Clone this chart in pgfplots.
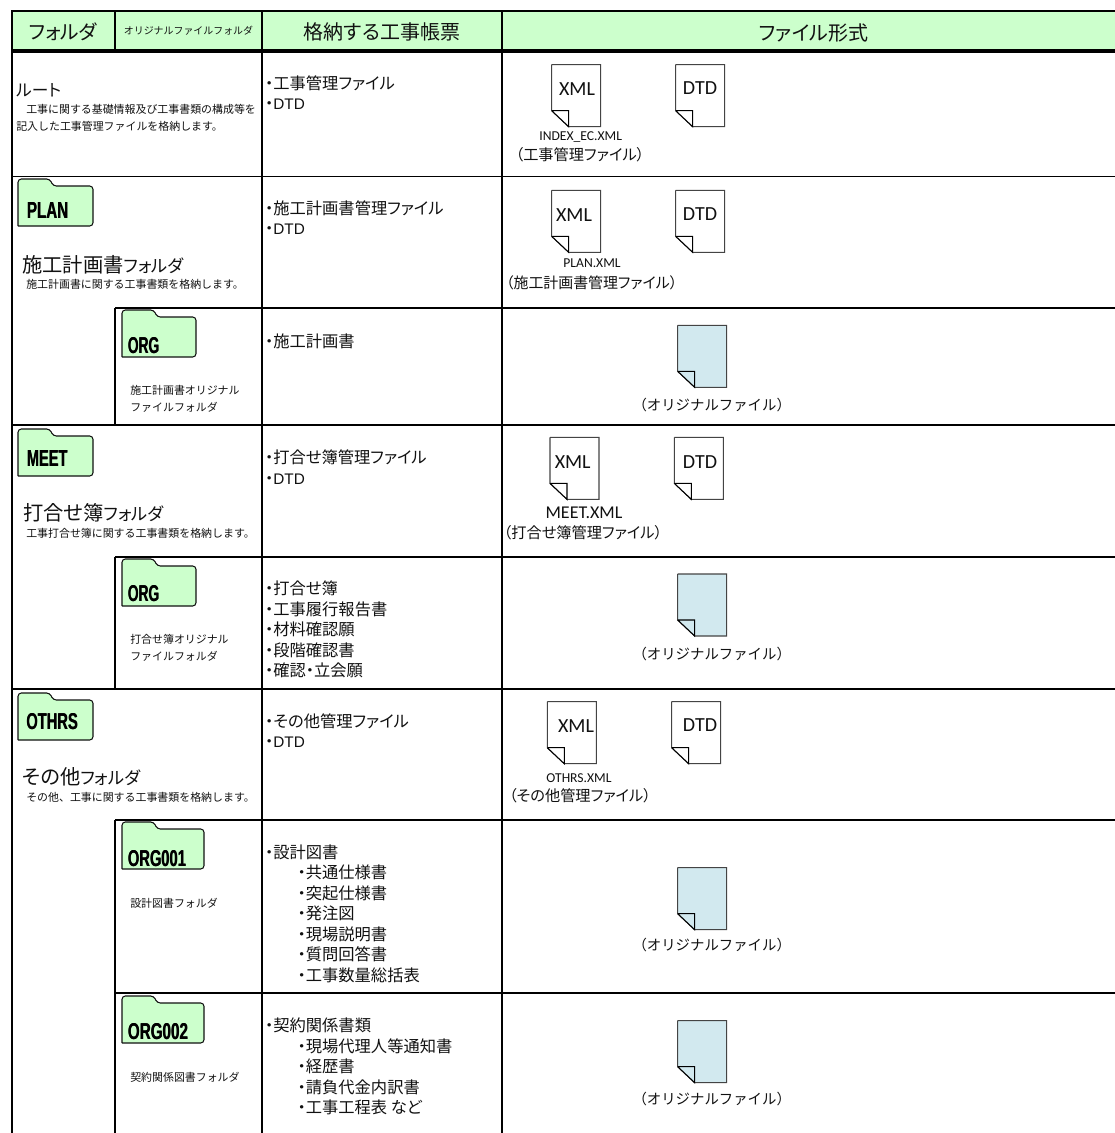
\documentclass[border=0pt]{standalone}
\usepackage{fontspec}
\usepackage{graphicx}
\usepackage{pgfplots}
\usepackage{pgfplotstable}
\pgfplotsset{compat=1.18}
\setmainfont{Noto Sans CJK JP}[RawFeature=+palt]
\newfontfamily\fw{Noto Sans CJK JP}
\newfontfamily\lat{Carlito}
\newfontfamily\lib{Liberation Sans}
\definecolor{hdr}{HTML}{CCFFCC}
\definecolor{blu}{HTML}{D2E9EF}
\definecolor{ink}{HTML}{111111}
\definecolor{edge}{HTML}{444444}
\pgfplotstableread{
x y
0 0
49 0
49 62
17 62
0 46
0 0
}\docshape
\pgfplotstableread{
x y
0 46
17 46
17 62
0 46
}\foldshape
\pgfplotstableread{
dx w y
0 0 47
0 0 0
32 0 0
35 0 7
0 1 7
0 1 47
0 0 47
}\foldershape
\newcommand\doc[3]{%
  \addplot[draw=edge,fill=#3,line width=.8pt,line join=miter] table[x expr=\thisrow{x}+#1,y expr=\thisrow{y}+#2] {\docshape};
  \addplot[draw=black,fill=#3,line width=.8pt] table[x expr=\thisrow{x}+#1,y expr=\thisrow{y}+#2] {\foldshape};
}
\newcommand\folder[4]{%
  \addplot[draw=ink,fill=hdr,line width=.8pt,rounded corners=2.5pt] table[x expr=\thisrow{dx}+\thisrow{w}*#3+#1,y expr=\thisrow{y}+#2] {\foldershape};
}
\newcommand\flabel[5]{% left-x centre-y width height text
  \node[anchor=west,inner sep=0pt,text=black] at (axis cs:#1,#2) {\resizebox{#3pt}{#4pt}{\lib\bfseries #5}};
  \node[anchor=west,inner sep=0pt,text=black,xshift=.35pt] at (axis cs:#1,#2) {\resizebox{#3pt}{#4pt}{\lib\bfseries #5}};
}
\newcommand\TL[4]{\node[anchor=west,inner sep=0pt,text=ink,font=\fontsize{#3}{#3}\selectfont] at (axis cs:#1,#2) {#4};}
\newcommand\TC[4]{\node[anchor=center,inner sep=0pt,text=ink,font=\fontsize{#3}{#3}\selectfont] at (axis cs:#1,#2) {#4};}
\newcommand\SM[3]{\node[anchor=west,inner sep=0pt,text=ink,font=\fw\fontsize{8.2}{8.2}\selectfont] at (axis cs:#1,#2) {#3};}
\newcommand\OR[2]{\node[anchor=center,inner sep=0pt,text=ink,font=\fw\fontsize{10.8}{10.8}\selectfont] at (axis cs:#1,#2) {（オリジナルファイル）};}
\newcommand\BIG[2]{{\fontsize{15.2}{15.2}\selectfont #1}{\fontsize{13}{13}\selectfont #2}}
\begin{document}
\begin{tikzpicture}
\begin{axis}[
  scale only axis,width=836.25pt,height=849.75pt,
  xmin=0,xmax=1115,ymin=0,ymax=1133,y dir=reverse,
  hide axis,clip=true]
\addplot[draw=none,fill=white] coordinates {(0,0)(1115,0)(1115,1133)(0,1133)(0,0)};
\addplot[draw=none,fill=hdr] coordinates {(12,11)(1115,11)(1115,51)(12,51)(12,11)};
% horizontal rules
\addplot[black,line width=1.6pt] coordinates {(11,11)(1115,11)};
\addplot[black,line width=2.6pt] coordinates {(11,51)(1115,51)};
\addplot[black,line width=1.3pt] coordinates {(12,176.6)(1115,176.6)};
\addplot[black,line width=1.3pt] coordinates {(115,308)(1115,308)};
\addplot[black,line width=1.3pt] coordinates {(12,425)(1115,425)};
\addplot[black,line width=1.3pt] coordinates {(115,557)(1115,557)};
\addplot[black,line width=1.3pt] coordinates {(12,689)(1115,689)};
\addplot[black,line width=1.3pt] coordinates {(115,820)(1115,820)};
\addplot[black,line width=1.3pt] coordinates {(115,993.3)(1115,993.3)};
% vertical rules
\addplot[black,line width=1.5pt] coordinates {(12,11)(12,1133)};
\addplot[black,line width=1.5pt] coordinates {(115,11)(115,51)};
\addplot[black,line width=1.5pt] coordinates {(115,308)(115,425)};
\addplot[black,line width=1.5pt] coordinates {(115,557)(115,689)};
\addplot[black,line width=1.5pt] coordinates {(115,820)(115,1133)};
\addplot[black,line width=1.5pt] coordinates {(261.7,11)(261.7,1133)};
\addplot[black,line width=1.5pt] coordinates {(502,11)(502,1133)};
% header
\TC{63}{32}{14.8}{フォルダ}
\TC{188.5}{31}{7.45}{\fw オリジナルファイルフォルダ}
\TC{382}{32}{15}{格納する工事帳票}
\TC{813.5}{33}{15}{ファイル形式}
% folders
\folder{18}{179}{75}{}
\folder{122}{310}{74}{}
\folder{18}{429}{75}{}
\folder{122}{559}{74}{}
\folder{18}{693}{75}{}
\folder{122}{822}{82}{}
\folder{122}{996}{82}{}
\flabel{26.5}{210}{31}{12}{PLAN}
\flabel{127.5}{346}{23.5}{12}{ORG}
\flabel{26.5}{458}{30.5}{12}{MEET}
\flabel{127.5}{594}{23.5}{12}{ORG}
\flabel{26}{722}{38.5}{12}{OTHRS}
\flabel{127.5}{859}{43.5}{12}{ORG001}
\flabel{127.5}{1031.7}{45}{12}{ORG002}
% left column text
\TL{16}{90}{12.5}{ルート}
\SM{26}{109}{工事に関する基礎情報及び工事書類の構成等を}
\SM{16}{126}{記入した工事管理ファイルを格納します。}
\TL{22}{265}{12}{\BIG{施工計画書}{フォルダ}}
\SM{26}{284}{施工計画書に関する工事書類を格納します。}
\SM{130}{390.7}{施工計画書オリジナル}
\SM{130}{407.3}{ファイルフォルダ}
\TL{23}{513}{12}{\BIG{打合せ簿}{フォルダ}}
\SM{26}{533}{工事打合せ簿に関する工事書類を格納します。}
\SM{130}{639.3}{打合せ簿オリジナル}
\SM{130}{656.5}{ファイルフォルダ}
\TL{22}{776.7}{12}{\BIG{その他}{フォルダ}}
\SM{26}{797.3}{その他、工事に関する工事書類を格納します。}
\SM{130}{903.3}{設計図書フォルダ}
\SM{130}{1077.3}{契約関係図書フォルダ}
% report lists
\TL{265}{83}{12.2}{・工事管理ファイル}
\TL{265}{104}{12.2}{・{\lib\fontsize{11.5}{11.5}\selectfont DTD}}
\TL{265}{208.5}{12.2}{・施工計画書管理ファイル}
\TL{265}{229.5}{12.2}{・{\lib\fontsize{11.5}{11.5}\selectfont DTD}}
\TL{265}{341}{12.2}{・施工計画書}
\TL{265}{457.7}{12.2}{・打合せ簿管理ファイル}
\TL{265}{479}{12.2}{・{\lib\fontsize{11.5}{11.5}\selectfont DTD}}
\TL{265}{588}{12.2}{・打合せ簿}
\TL{265}{609}{12.2}{・工事履行報告書}
\TL{265}{629.5}{12.2}{・材料確認願}
\TL{265}{650.5}{12.2}{・段階確認書}
\TL{265}{670.5}{12.2}{・確認・立会願}
\TL{265}{721}{12.2}{・その他管理ファイル}
\TL{265}{742}{12.2}{・{\lib\fontsize{11.5}{11.5}\selectfont DTD}}
\TL{265}{852.3}{12.2}{・設計図書}
\TL{297.5}{872.7}{12.2}{・共通仕様書}
\TL{297.5}{893.3}{12.2}{・突起仕様書}
\TL{297.5}{913.5}{12.2}{・発注図}
\TL{297.5}{934}{12.2}{・現場説明書}
\TL{297.5}{954.3}{12.2}{・質問回答書}
\TL{297.5}{975}{12.2}{・工事数量総括表}
\TL{265}{1025.7}{12.2}{・契約関係書類}
\TL{297.5}{1046.5}{12.2}{・現場代理人等通知書}
\TL{297.5}{1066.5}{12.2}{・経歴書}
\TL{297.5}{1087}{12.2}{・請負代金内訳書}
\TL{297.5}{1107.5}{12.2}{・工事工程表 など}
% documents
\doc{551.7}{64.7}{white}
\doc{675.7}{64.7}{white}
\doc{551.7}{190.3}{white}
\doc{675.7}{190.3}{white}
\doc{550}{437.3}{white}
\doc{674.3}{437.3}{white}
\doc{547.3}{701.7}{white}
\doc{671.7}{701.7}{white}
\doc{677.7}{325.3}{blu}
\doc{677.7}{574}{blu}
\doc{677.7}{867.7}{blu}
\doc{677.7}{1020.7}{blu}
% document captions
\TC{577}{89.3}{15}{\lat XML}
\TC{700}{88.3}{15}{\lat DTD}
\TC{574}{215}{15}{\lat XML}
\TC{700}{214}{15}{\lat DTD}
\TC{572.7}{462.3}{15}{\lat XML}
\TC{700}{462}{15}{\lat DTD}
\TC{576}{725.7}{15}{\lat XML}
\TC{700}{725}{15}{\lat DTD}
\TC{580.7}{136.7}{10.2}{\lat INDEX\_EC.XML}
\TC{580}{155}{11.4}{（工事管理ファイル）}
\TC{592}{263.3}{10.2}{\lat PLAN.XML}
\TC{591.7}{283.3}{11.2}{（施工計画書管理ファイル）}
\TC{584}{512.3}{13.5}{\lat MEET.XML}
\TC{583}{532.7}{11.4}{（打合せ簿管理ファイル）}
\TC{579}{777.7}{10.2}{\lat OTHRS.XML}
\TC{580}{796}{11.4}{（その他管理ファイル）}
\OR{711.7}{405}
\OR{711.7}{654}
\OR{711.7}{945}
\OR{711.7}{1099.3}
\end{axis}
\end{tikzpicture}
\end{document}
